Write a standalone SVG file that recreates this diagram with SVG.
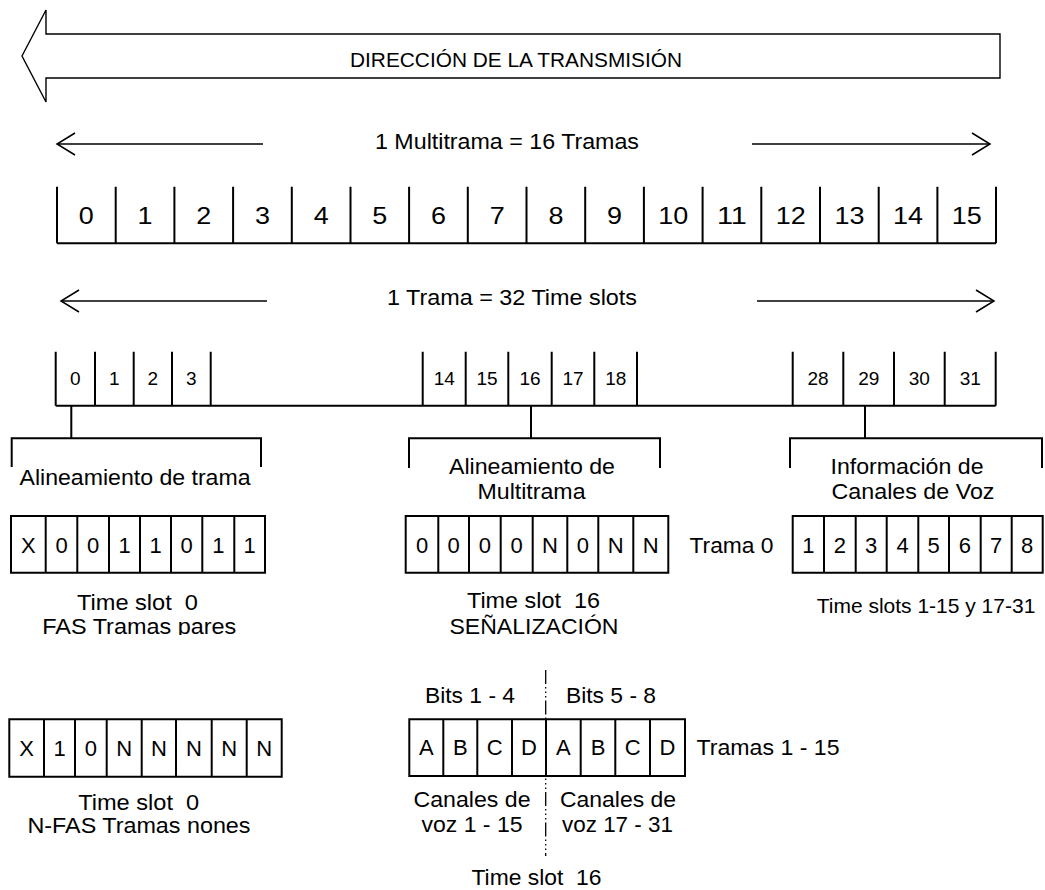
<svg xmlns="http://www.w3.org/2000/svg" width="1045" height="890" viewBox="0 0 1045 890">
<style>
.t{font-family:"Liberation Sans",Arial,sans-serif;font-size:22px;text-anchor:middle;fill:#000}
.big{font-size:20px}
.mf{font-size:24px}
.sl{font-size:19px}
.bit{font-size:22px}
.ln{fill:none;stroke:#000;stroke-width:2}
.thin{fill:none;stroke:#000;stroke-width:1.4}
.dim{fill:none;stroke:#000;stroke-width:1.5;marker-end:url(#open)}
.dd{fill:none;stroke:#000;stroke-width:1.3;stroke-dasharray:14 3 1.5 3 1.5 3 1.5 3}
</style>
<defs>
<marker id="open" viewBox="-20 -13 22 26" refX="0" refY="0" markerWidth="22" markerHeight="26" markerUnits="userSpaceOnUse" orient="auto">
<path d="M-18,-11 L0,0 L-18,11" fill="none" stroke="#000" stroke-width="1.5"/>
</marker>
<clipPath id="c486" clipPathUnits="userSpaceOnUse"><rect x="0" y="0" width="1045" height="486"/></clipPath>
<clipPath id="c500" clipPathUnits="userSpaceOnUse"><rect x="0" y="0" width="1045" height="500"/></clipPath>
<clipPath id="c635" clipPathUnits="userSpaceOnUse"><rect x="0" y="0" width="1045" height="635"/></clipPath>
<clipPath id="c704" clipPathUnits="userSpaceOnUse"><rect x="0" y="0" width="1045" height="704"/></clipPath>
</defs>
<rect width="1045" height="890" fill="#fff"/>

<g id="direction-arrow">
<polygon class="thin" points="22,56 46,10 46,34 1000,34 1000,78 46,78 46,102"/>
<text class="t big" x="516" y="67" textLength="332" lengthAdjust="spacingAndGlyphs">DIRECCIÓN DE LA TRANSMISIÓN</text>
</g>

<g id="multitrama-label">
<text class="t" x="507" y="149" textLength="264" lengthAdjust="spacingAndGlyphs">1 Multitrama = 16 Tramas</text>
</g>

<g id="multitrama">
<path class="ln" d="M57,243.3 H996 M57,186.7 V243.3 M115.7,186.7 V243.3 M174.4,186.7 V243.3 M233.1,186.7 V243.3 M291.8,186.7 V243.3 M350.5,186.7 V243.3 M409.1,186.7 V243.3 M467.8,186.7 V243.3 M526.5,186.7 V243.3 M585.2,186.7 V243.3 M643.9,186.7 V243.3 M702.6,186.7 V243.3 M761.3,186.7 V243.3 M820,186.7 V243.3 M878.7,186.7 V243.3 M937.4,186.7 V243.3 M996,186.7 V243.3"/>
<g class="t mf">
<text x="86.3" y="224" textLength="15" lengthAdjust="spacingAndGlyphs">0</text>
<text x="145.1" y="224" textLength="15" lengthAdjust="spacingAndGlyphs">1</text>
<text x="203.8" y="224" textLength="15" lengthAdjust="spacingAndGlyphs">2</text>
<text x="262.5" y="224" textLength="15" lengthAdjust="spacingAndGlyphs">3</text>
<text x="321.2" y="224" textLength="15" lengthAdjust="spacingAndGlyphs">4</text>
<text x="379.8" y="224" textLength="15" lengthAdjust="spacingAndGlyphs">5</text>
<text x="438.5" y="224" textLength="15" lengthAdjust="spacingAndGlyphs">6</text>
<text x="497.2" y="224" textLength="15" lengthAdjust="spacingAndGlyphs">7</text>
<text x="555.9" y="224" textLength="15" lengthAdjust="spacingAndGlyphs">8</text>
<text x="614.6" y="224" textLength="15" lengthAdjust="spacingAndGlyphs">9</text>
<text x="673.3" y="224" textLength="30" lengthAdjust="spacingAndGlyphs">10</text>
<text x="731.9" y="224" textLength="30" lengthAdjust="spacingAndGlyphs">11</text>
<text x="790.7" y="224" textLength="30" lengthAdjust="spacingAndGlyphs">12</text>
<text x="849.4" y="224" textLength="30" lengthAdjust="spacingAndGlyphs">13</text>
<text x="908.1" y="224" textLength="30" lengthAdjust="spacingAndGlyphs">14</text>
<text x="966.7" y="224" textLength="30" lengthAdjust="spacingAndGlyphs">15</text>
</g>
</g>

<g id="trama-label">
<text class="t" x="512" y="305" textLength="250" lengthAdjust="spacingAndGlyphs">1 Trama = 32 Time slots</text>
</g>

<g id="trama">
<path class="ln" d="M55.7,405.7 H995.7 M55.7,351.7 V405.7 M95,351.7 V405.7 M133.7,351.7 V405.7 M172,351.7 V405.7 M210.7,351.7 V405.7 M422.7,351.7 V405.7 M465.7,351.7 V405.7 M508.3,351.7 V405.7 M551.7,351.7 V405.7 M594.3,351.7 V405.7 M637,351.7 V405.7 M792.7,351.7 V405.7 M843.3,351.7 V405.7 M894,351.7 V405.7 M944.7,351.7 V405.7 M995.7,351.7 V405.7"/>
<g class="t sl">
<text x="75.3" y="385">0</text>
<text x="114.3" y="385">1</text>
<text x="152.8" y="385">2</text>
<text x="191.3" y="385">3</text>
<text x="444.2" y="385">14</text>
<text x="487" y="385">15</text>
<text x="530" y="385">16</text>
<text x="573" y="385">17</text>
<text x="615.7" y="385">18</text>
<text x="818" y="385">28</text>
<text x="868.7" y="385">29</text>
<text x="919.3" y="385">30</text>
<text x="970.2" y="385">31</text>
</g>
</g>

<g id="connectors">
<line class="dim" x1="263" y1="144" x2="57" y2="144"/>
<line class="dim" x1="752" y1="144" x2="990" y2="144"/>
<line class="dim" x1="267" y1="301" x2="61" y2="301"/>
<line class="dim" x1="757" y1="301" x2="994" y2="301"/>
<path class="ln" d="M71.3,405.7 V438.3 M11.7,467 V438.3 H261 V467"/>
<path class="ln" d="M531,405.7 V438.3 M409,468 V438.3 H660 V468"/>
<path class="ln" d="M865,405.7 V438.3 M790,468 V438.3 H1042 V468"/>
<line class="dd" x1="545.7" y1="670" x2="545.7" y2="856"/>
</g>

<g id="label-alineamiento-trama">
<text class="t" x="135" y="485" textLength="231" lengthAdjust="spacingAndGlyphs" clip-path="url(#c486)">Alineamiento de trama</text>
</g>
<g id="label-alineamiento-multitrama">
<text class="t" x="532" y="474" textLength="166" lengthAdjust="spacingAndGlyphs">Alineamiento de</text>
<text class="t" x="531.5" y="499" textLength="108" lengthAdjust="spacingAndGlyphs" clip-path="url(#c500)">Multitrama</text>
</g>
<g id="label-informacion">
<text class="t" x="907" y="474" textLength="153" lengthAdjust="spacingAndGlyphs">Información de</text>
<text class="t" x="913" y="499" textLength="163" lengthAdjust="spacingAndGlyphs">Canales de Voz</text>
</g>

<g id="fas">
<path class="ln" d="M11,516 H265 V572.7 H11 Z M45.7,516 V572.7 M77.3,516 V572.7 M109,516 V572.7 M140,516 V572.7 M171,516 V572.7 M202.3,516 V572.7 M234.3,516 V572.7"/>
<g class="t bit">
<text x="28.3" y="553">X</text><text x="61.5" y="553">0</text><text x="93.2" y="553">0</text><text x="124.5" y="553">1</text><text x="155.5" y="553">1</text><text x="186.7" y="553">0</text><text x="218.3" y="553">1</text><text x="249.7" y="553">1</text>
</g>
<text class="t" x="137.5" y="610" textLength="121" lengthAdjust="spacingAndGlyphs" xml:space="preserve">Time slot  0</text>
<text class="t" x="139.3" y="634" textLength="194" lengthAdjust="spacingAndGlyphs" clip-path="url(#c635)">FAS Tramas pares</text>
</g>

<g id="ts16-trama0">
<path class="ln" d="M405.7,516 H668.3 V572.7 H405.7 Z M438.3,516 V572.7 M469,516 V572.7 M500.7,516 V572.7 M532.7,516 V572.7 M567.3,516 V572.7 M598.3,516 V572.7 M633.3,516 V572.7"/>
<g class="t bit">
<text x="422" y="553">0</text><text x="453.7" y="553">0</text><text x="484.9" y="553">0</text><text x="516.7" y="553">0</text><text x="550" y="553">N</text><text x="582.8" y="553">0</text><text x="615.8" y="553">N</text><text x="650.8" y="553">N</text>
</g>
<text class="t" x="731.5" y="553" textLength="84" lengthAdjust="spacingAndGlyphs">Trama 0</text>
<text class="t" x="533.5" y="608" textLength="133" lengthAdjust="spacingAndGlyphs" xml:space="preserve">Time slot  16</text>
<text class="t" x="534" y="634" textLength="169" lengthAdjust="spacingAndGlyphs" clip-path="url(#c635)">SEÑALIZACIÓN</text>
</g>

<g id="voz">
<path class="ln" d="M792.7,516 H1042.7 V572.7 H792.7 Z M824,516 V572.7 M855.7,516 V572.7 M886.7,516 V572.7 M918.3,516 V572.7 M949,516 V572.7 M980.7,516 V572.7 M1011.7,516 V572.7"/>
<g class="t bit">
<text x="808.4" y="553">1</text><text x="839.9" y="553">2</text><text x="871.2" y="553">3</text><text x="902.5" y="553">4</text><text x="933.7" y="553">5</text><text x="964.9" y="553">6</text><text x="996.2" y="553">7</text><text x="1027.2" y="553">8</text>
</g>
<text class="t" x="926" y="613" style="font-size:21px">Time slots 1-15 y 17-31</text>
</g>

<g id="nfas">
<path class="ln" d="M9.3,719.3 H281.7 V776.7 H9.3 Z M44,719.3 V776.7 M75,719.3 V776.7 M106.7,719.3 V776.7 M141.7,719.3 V776.7 M176,719.3 V776.7 M211.7,719.3 V776.7 M246.7,719.3 V776.7"/>
<g class="t bit">
<text x="26.7" y="756">X</text><text x="59.5" y="756">1</text><text x="90.9" y="756">0</text><text x="124.2" y="756">N</text><text x="158.9" y="756">N</text><text x="193.9" y="756">N</text><text x="229.2" y="756">N</text><text x="264.2" y="756">N</text>
</g>
<text class="t" x="138.7" y="810" textLength="121" lengthAdjust="spacingAndGlyphs" xml:space="preserve">Time slot  0</text>
<text class="t" x="139" y="833" textLength="223" lengthAdjust="spacingAndGlyphs">N-FAS Tramas nones</text>
</g>

<g id="ts16-tramas1-15">
<text class="t" x="470" y="703" textLength="90" lengthAdjust="spacingAndGlyphs" clip-path="url(#c704)">Bits 1 - 4</text>
<text class="t" x="611" y="703" textLength="90" lengthAdjust="spacingAndGlyphs" clip-path="url(#c704)">Bits 5 - 8</text>
<path class="ln" d="M409.3,719.3 H685 V776 H409.3 Z M443.3,719.3 V776 M477.3,719.3 V776 M512,719.3 V776 M546,719.3 V776 M580.7,719.3 V776 M615.3,719.3 V776 M650,719.3 V776"/>
<g class="t bit">
<text x="426.3" y="755">A</text><text x="460.3" y="755">B</text><text x="494.7" y="755">C</text><text x="529" y="755">D</text><text x="563.4" y="755">A</text><text x="598" y="755">B</text><text x="632.7" y="755">C</text><text x="667.5" y="755">D</text>
</g>
<text class="t" x="768" y="755" textLength="143" lengthAdjust="spacingAndGlyphs">Tramas 1 - 15</text>
<text class="t" x="472" y="807" textLength="117" lengthAdjust="spacingAndGlyphs">Canales de</text>
<text class="t" x="472" y="832" textLength="101" lengthAdjust="spacingAndGlyphs">voz 1 - 15</text>
<text class="t" x="618" y="807" textLength="116" lengthAdjust="spacingAndGlyphs">Canales de</text>
<text class="t" x="617.5" y="832" textLength="111" lengthAdjust="spacingAndGlyphs">voz 17 - 31</text>
<text class="t" x="536.5" y="885" textLength="130" lengthAdjust="spacingAndGlyphs" xml:space="preserve">Time slot  16</text>
</g>
</svg>
